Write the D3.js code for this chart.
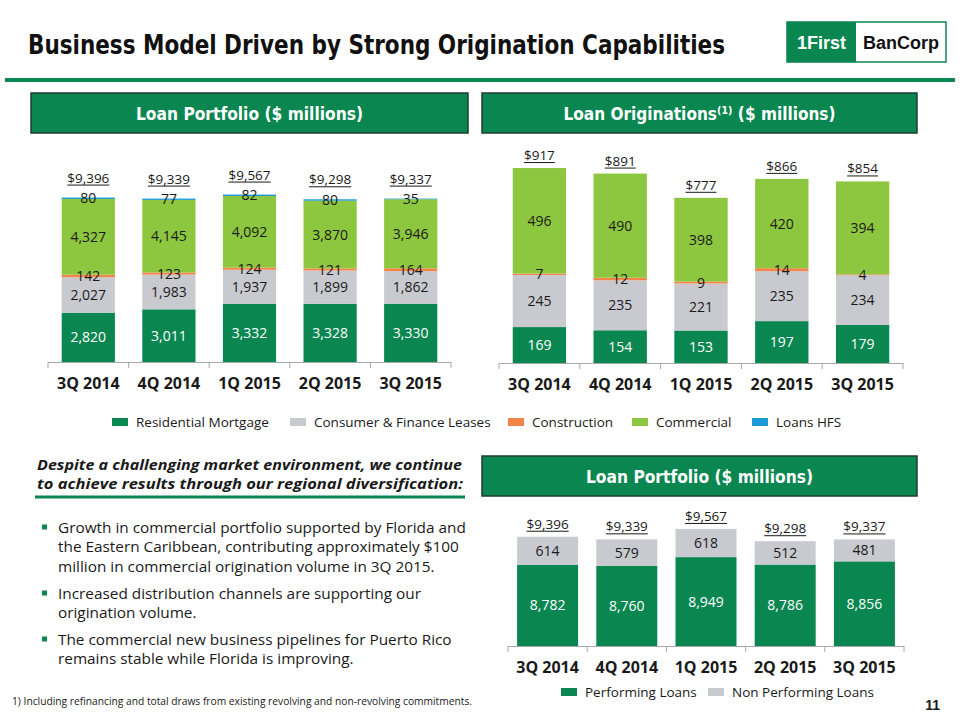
<!DOCTYPE html>
<html><head><meta charset="utf-8">
<script src="https://cdn.jsdelivr.net/npm/d3@7"></script>
<style>body{margin:0;background:#fff} svg{display:block}</style>
</head><body><svg id="c" width="960" height="720"></svg>
<script>
// ---------- data ----------
const quarters = ["3Q 2014","4Q 2014","1Q 2015","2Q 2015","3Q 2015"];
// Loan portfolio ($ millions)
const portResidential  = [2820, 3011, 3332, 3328, 3330];
const portConsumer     = [2027, 1983, 1937, 1899, 1862];
const portConstruction = [142, 123, 124, 121, 164];
const portCommercial   = [4327, 4145, 4092, 3870, 3946];
const portHFS          = [80, 77, 82, 80, 35];
const portTotals       = [9396, 9339, 9567, 9298, 9337];
// Loan originations ($ millions)
const origResidential  = [169, 154, 153, 197, 179];
const origConsumer     = [245, 235, 221, 235, 234];
const origConstruction = [7, 12, 9, 14, 4];
const origCommercial   = [496, 490, 398, 420, 394];
const origTotals       = [917, 891, 777, 866, 854];
// Loan portfolio by performance
const performing       = [8782, 8760, 8949, 8786, 8856];
const nonPerforming    = [614, 579, 618, 512, 481];
const perfTotals       = [9396, 9339, 9567, 9298, 9337];

const legendTop = ["Residential Mortgage","Consumer & Finance Leases","Construction","Commercial","Loans HFS"];
const legendBottom = ["Performing Loans","Non Performing Loans"];
const bullets = [
  ["Growth in commercial portfolio supported by Florida and",
   "the Eastern Caribbean, contributing approximately $100",
   "million in commercial origination volume in 3Q 2015."],
  ["Increased distribution channels are supporting our",
   "origination volume."],
  ["The commercial new business pipelines for Puerto Rico",
   "remains stable while Florida is improving."]
];

// ---------- style ----------
const GREEN="#0a8651", LGREEN="#8dc63f", GRAY="#c9cacf", ORANGE="#f5844a", BLUE="#1a9bd7", TXT="#1a1a1a";
const F="'Open Sans','Noto Sans',sans-serif";
const FC="'DejaVu Sans Condensed','DejaVu Sans',sans-serif";
const FA="'Liberation Sans',Arial,sans-serif";
const svg = d3.select("#c");
svg.append("rect").attr("width",960).attr("height",720).attr("fill","#fff");
const fit = (t,w)=>t.attr("textLength",w).attr("lengthAdjust","spacingAndGlyphs");

// ---------- header ----------
fit(svg.append("text").attr("x",28).attr("y",54).attr("font-family",FC).attr("font-weight","bold")
  .attr("font-size",27).attr("fill","#111").text("Business Model Driven by Strong Origination Capabilities"),697);

// logo
svg.append("rect").attr("x",787).attr("y",22).attr("width",159).attr("height",40).attr("fill","#fff").attr("stroke",GREEN).attr("stroke-width",1.5);
svg.append("rect").attr("x",787).attr("y",22).attr("width",69).attr("height",40).attr("fill",GREEN);
svg.append("text").attr("x",821.5).attr("y",49).attr("text-anchor","middle").attr("font-family",FA).attr("font-weight","bold").attr("font-size",18).attr("fill","#fff").text("1First");
svg.append("text").attr("x",901).attr("y",49).attr("text-anchor","middle").attr("font-family",FA).attr("font-weight","bold").attr("font-size",18).attr("fill","#111").text("BanCorp");

svg.append("rect").attr("x",5).attr("y",78).attr("width",950).attr("height",4).attr("fill",GREEN);

function headerBox(x,y,w,h,label,tw){
  svg.append("rect").attr("x",x).attr("y",y).attr("width",w).attr("height",h).attr("fill",GREEN).attr("stroke","#1f3d2c").attr("stroke-width",1.5);
  fit(svg.append("text").attr("x",x+w/2-tw/2).attr("y",y+h/2+6.5).attr("font-family",FC).attr("font-weight","bold")
    .attr("font-size",18).attr("fill","#fff").text(label),tw);
}
headerBox(31,93,437,40,"Loan Portfolio ($ millions)",227);
headerBox(482,93,435,40,"Loan Originations\u207D\u00B9\u207E ($ millions)",272);
headerBox(482,456,435,40,"Loan Portfolio ($ millions)",227);

// ---------- stacked charts ----------
function stackChart(o){
  const x = d3.scaleBand().domain(quarters).range([o.x0,o.x1]).paddingInner(o.pad).paddingOuter(o.pad/2);
  const y = d3.scaleLinear().domain(o.domain).range([o.axisY,o.yTop]).clamp(true);
  const rows = quarters.map((q,i)=>{const r={q}; o.series.forEach((s,k)=>r["s"+k]=s[i]); return r;});
  const stack = d3.stack().keys(o.series.map((s,k)=>"s"+k))(rows);
  const g = svg.append("g");
  stack.forEach((layer,li)=>{
    g.selectAll(null).data(layer).join("rect")
      .attr("x",d=>x(d.data.q)).attr("width",x.bandwidth())
      .attr("y",d=>y(d[1])).attr("height",d=>Math.max(0,y(d[0])-y(d[1])))
      .attr("fill",o.colors[li]);
  });
  stack.forEach((layer,li)=>{
    g.selectAll(null).data(layer).join("text")
      .attr("x",d=>x(d.data.q)+x.bandwidth()/2)
      .attr("y",d=>(y(d[0])+y(d[1]))/2).attr("dy","0.36em")
      .attr("text-anchor","middle").attr("font-family",F).attr("font-size",14)
      .attr("fill",li===0?"#fff":TXT)
      .text((d,i)=>d3.format(",")(o.labels[li][i]));
  });
  quarters.forEach((q,i)=>{
    const cx=x(q)+x.bandwidth()/2, by=y(o.totals[i])-o.totOff;
    const t=g.append("text").attr("x",cx).attr("y",by).attr("text-anchor","middle")
      .attr("font-family",F).attr("font-size",13.5).attr("fill",TXT).text("$"+d3.format(",")(o.totals[i]));
    const w=t.node().getComputedTextLength();
    g.append("line").attr("x1",cx-w/2).attr("x2",cx+w/2).attr("y1",by+2.5).attr("y2",by+2.5).attr("stroke",TXT).attr("stroke-width",1);
  });
  const ax=g.append("g").attr("transform",`translate(0,${o.axisY})`).call(d3.axisBottom(x).tickSize(0));
  ax.select(".domain").remove();
  ax.selectAll("text").attr("y",27).attr("dy",0).attr("font-family",F).attr("font-size",16)
    .attr("font-weight","bold").attr("fill",TXT);
  g.append("line").attr("x1",o.x0).attr("x2",o.x1).attr("y1",o.axisY+0.5).attr("y2",o.axisY+0.5).attr("stroke","#a8a8a8");
  g.selectAll(null).data(d3.range(quarters.length+1)).join("line")
    .attr("x1",i=>o.x0+i*x.step()).attr("x2",i=>o.x0+i*x.step())
    .attr("y1",o.axisY).attr("y2",o.axisY+6).attr("stroke","#a8a8a8");
}

stackChart({x0:48,x1:451,axisY:362,domain:[0,10000],yTop:187,pad:0.34,
  series:[portResidential,portConsumer,portConstruction,portCommercial,portHFS],
  labels:[portResidential,portConsumer,portConstruction,portCommercial,portHFS],
  colors:[GREEN,GRAY,ORANGE,LGREEN,BLUE],totals:portTotals,totOff:15});

// commercial bar segment fills the bar up to the reported total
const origCommercialBar = origTotals.map((t,i)=>t-origResidential[i]-origConsumer[i]-origConstruction[i]);
stackChart({x0:499,x1:903,axisY:363,domain:[0,1000],yTop:150.4,pad:0.34,
  series:[origResidential,origConsumer,origConstruction,origCommercialBar],
  labels:[origResidential,origConsumer,origConstruction,origCommercial],
  colors:[GREEN,GRAY,ORANGE,LGREEN],totals:origTotals,totOff:8});

stackChart({x0:508,x1:904,axisY:646,domain:[7000,10000],yTop:509.2,pad:0.23,
  series:[performing,nonPerforming],labels:[performing,nonPerforming],
  colors:[GREEN,GRAY],totals:perfTotals,totOff:8});

// ---------- legends ----------
const topCols=[GREEN,GRAY,ORANGE,LGREEN,BLUE], topX=[112,290,508,632,752];
legendTop.forEach((l,i)=>{
  svg.append("rect").attr("x",topX[i]).attr("y",418).attr("width",16).attr("height",8).attr("fill",topCols[i]);
  svg.append("text").attr("x",topX[i]+24).attr("y",426.5).attr("font-family",F).attr("font-size",13.5).attr("fill",TXT).text(l);
});
const botCols=[GREEN,GRAY], botX=[561,708];
legendBottom.forEach((l,i)=>{
  svg.append("rect").attr("x",botX[i]).attr("y",688).attr("width",16).attr("height",8).attr("fill",botCols[i]);
  svg.append("text").attr("x",botX[i]+24).attr("y",696.5).attr("font-family",F).attr("font-size",13.5).attr("fill",TXT).text(l);
});

// ---------- text panel ----------
fit(svg.append("text").attr("x",37).attr("y",470).attr("font-family",F).attr("font-weight","bold").attr("font-style","italic")
  .attr("font-size",15).attr("fill",TXT).text("Despite a challenging market environment, we continue"),425);
fit(svg.append("text").attr("x",37).attr("y",489).attr("font-family",F).attr("font-weight","bold").attr("font-style","italic")
  .attr("font-size",15).attr("fill",TXT).text("to achieve results through our regional diversification:"),426);
svg.append("rect").attr("x",35).attr("y",495.5).attr("width",430).attr("height",3).attr("fill",GREEN);

const probe = svg.append("text").attr("font-family",F).attr("font-size",16).text(bullets[0][0]);
const bSize = 16*408/probe.node().getComputedTextLength(); probe.remove();
const bStarts=[533,599,645];
bullets.forEach((lines,b)=>{
  svg.append("rect").attr("x",42).attr("y",bStarts[b]-8.5).attr("width",5).attr("height",5).attr("fill",GREEN);
  lines.forEach((ln,j)=>{
    svg.append("text").attr("x",58).attr("y",bStarts[b]+j*19.3).attr("font-family",F).attr("font-size",bSize).attr("fill",TXT).text(ln);
  });
});

fit(svg.append("text").attr("x",12).attr("y",705).attr("font-family",F).attr("font-size",11).attr("fill",TXT)
  .text("1) Including refinancing and total draws from existing revolving and non-revolving commitments."),460);
svg.append("text").attr("x",940).attr("y",710).attr("text-anchor","end").attr("font-family",FA)
  .attr("font-weight","bold").attr("font-size",14).attr("fill",TXT).text("11");
</script></body></html>
